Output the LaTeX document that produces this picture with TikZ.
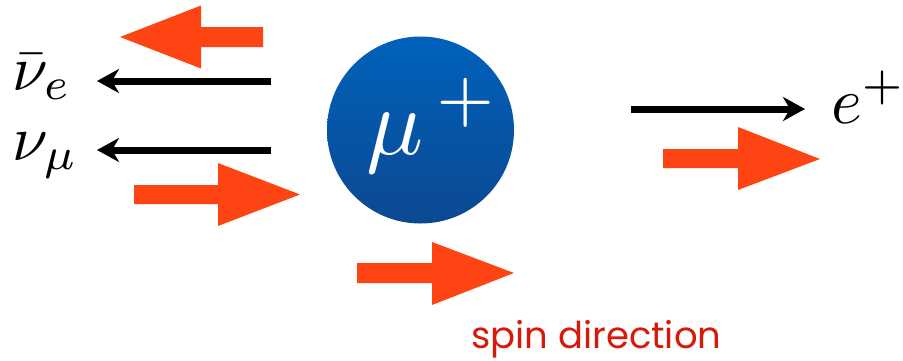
\documentclass[tikz,border=0pt]{standalone}
\usepackage[no-math]{fontspec}
\usepackage{graphicx}
\newfontfamily\spinfont{Poppins}
\usetikzlibrary{arrows.meta}
\definecolor{spinred}{RGB}{255,68,20}
\definecolor{labelred}{RGB}{215,25,10}
\definecolor{ballTop}{RGB}{0,98,188}
\definecolor{ballBot}{RGB}{12,72,145}
\tikzset{
  spinarrow/.style={fill=spinred},
  momentum/.style={line width=7pt,-{Stealth[length=22pt,width=24pt,inset=7pt]}},
  label/.style={inner sep=0pt,anchor=base west},
}
\begin{document}
\begin{tikzpicture}[x=1pt,y=-1pt]
\useasboundingbox (0,0) rectangle (903,360);
% muon ball
\node[circle,minimum size=187pt,inner sep=0pt,top color=ballTop,bottom color=ballBot] (mu) at (420.5,130) {};
\node[label,text=white] (mulabel) at (366,154) {\scalebox{9.5}{$\mu^{\mkern3mu+}$}};
% labels
\node[label] (nue) at (12,90) {\scalebox{6.4}{$\bar\nu_e$}};
\node[label] (num) at (12,160) {\scalebox{6.4}{$\nu_\mu$}};
\node[label] (ep) at (831,123) {\scalebox{6.6}{$e^{+}$}};
\node[label,text=labelred] (spin) at (471,348) {\spinfont\fontsize{37}{40}\selectfont spin direction};
% momentum arrows
\coordinate (nueS) at (271,81);
\coordinate (nueE) at (97,81);
\coordinate (numS) at (271,150);
\coordinate (numE) at (97,150);
\coordinate (epS) at (631,109);
\coordinate (epE) at (805,109);
\draw[momentum] (nueS) -- (nueE);
\draw[momentum] (numS) -- (numE);
\draw[momentum] (epS) -- (epE);
% spin arrows
\fill[spinarrow] (263,27) -- (201,27) -- (201,5.5) -- (120,37) -- (201,68.5) -- (201,47) -- (263,47) -- cycle;
\fill[spinarrow] (134,185) -- (218,185) -- (218,163) -- (300,194.5) -- (218,226) -- (218,204) -- (134,204) -- cycle;
\fill[spinarrow] (663,149) -- (738,149) -- (738,127) -- (820,159) -- (738,190) -- (738,168) -- (663,168) -- cycle;
\fill[spinarrow] (357,263) -- (432,263) -- (432,242) -- (514,273) -- (432,305) -- (432,283) -- (357,283) -- cycle;
\end{tikzpicture}
\end{document}
